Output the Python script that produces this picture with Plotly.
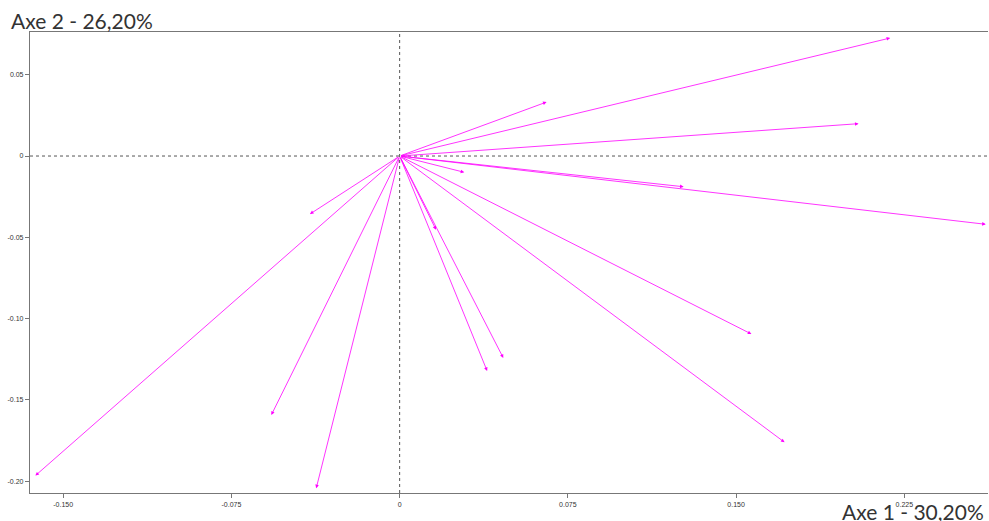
import plotly.graph_objects as go

# Arrow tip coordinates (Axe 1, Axe 2)
axe1 = [0.2187, 0.2046, 0.0655, 0.1266, 0.2613, 0.0288, 0.0162, -0.0400,
        0.1568, 0.0462, 0.0390, 0.1716, -0.0572, -0.1624, -0.0372]
axe2 = [0.0726, 0.0199, 0.0332, -0.0189, -0.0420, -0.0100, -0.0453, -0.0357,
        -0.1095, -0.1242, -0.1322, -0.1761, -0.1593, -0.1966, -0.2044]

x_ticks = [-0.150, -0.075, 0, 0.075, 0.150, 0.225]
x_tick_labels = ["-0.150", "-0.075", "0", "0.075", "0.150", "0.225"]
y_ticks = [0.05, 0, -0.05, -0.10, -0.15, -0.20]
y_tick_labels = ["0.05", "0", "-0.05", "-0.10", "-0.15", "-0.20"]

x_title = "Axe 1 - 30,20%"
y_title = "Axe 2 - 26,20%"

x_range = [-0.1648, 0.2623]
y_range = [-0.2073, 0.0763]

W, H = 989, 521
ML, MR, MT, MB = 29.5, 1, 32, 28
PW = W - ML - MR
PH = H - MT - MB

fig = go.Figure()
# invisible trace to establish axes
fig.add_trace(go.Scatter(x=axe1, y=axe2, mode="markers",
                         marker=dict(size=1, color="rgba(0,0,0,0)"),
                         hoverinfo="skip", showlegend=False))

annotations = []
for xv, yv in zip(axe1, axe2):
    annotations.append(dict(
        x=xv, y=yv, ax=0, ay=0, xref="x", yref="y", axref="x", ayref="y",
        showarrow=True, arrowhead=2, arrowsize=0.9, arrowwidth=0.8,
        arrowcolor="#ff00ff", text=""))

annotations.append(dict(text=y_title, xref="paper", yref="paper",
                        x=(8 - ML) / PW, y=(H - MB - 20) / PH, xanchor="left", yanchor="middle",
                        showarrow=False, font=dict(family="Lato", size=21, color="#333")))
annotations.append(dict(text=x_title, xref="paper", yref="paper",
                        x=(986 - ML) / PW, y=(H - MB - 511) / PH, xanchor="right", yanchor="middle",
                        showarrow=False, font=dict(family="Lato", size=21, color="#333")))

shapes = [
    dict(type="line", xref="x", yref="paper", x0=0, x1=0, y0=0, y1=1,
         line=dict(color="#555", width=1, dash="dot"), layer="below"),
    dict(type="line", xref="paper", yref="y", x0=0, x1=1, y0=0, y1=0,
         line=dict(color="#555", width=1, dash="dot"), layer="below"),
]

fig.update_layout(
    width=W, height=H,
    margin=dict(l=ML, r=MR, t=MT, b=MB, autoexpand=False),
    paper_bgcolor="white", plot_bgcolor="white",
    annotations=annotations, shapes=shapes,
    showlegend=False,
    font=dict(family="Liberation Sans", size=7, color="#333"),
)
fig.update_xaxes(range=x_range, tickvals=x_ticks, ticktext=x_tick_labels,
                 showgrid=False, zeroline=False, showline=True, linecolor="#777",
                 linewidth=1.2, mirror=True, ticks="outside", ticklen=4, tickcolor="#777",
                 tickfont=dict(size=7, color="#333"), automargin=False)
fig.update_yaxes(range=y_range, tickvals=y_ticks, ticktext=y_tick_labels,
                 showgrid=False, zeroline=False, showline=True, linecolor="#777",
                 linewidth=1.2, ticks="outside", ticklen=4, tickcolor="#777",
                 tickfont=dict(size=7, color="#333"), automargin=False)

fig.write_html("out.html", config={"displayModeBar": False},
               post_script="document.body.style.margin='0';document.body.style.overflow='hidden';")
